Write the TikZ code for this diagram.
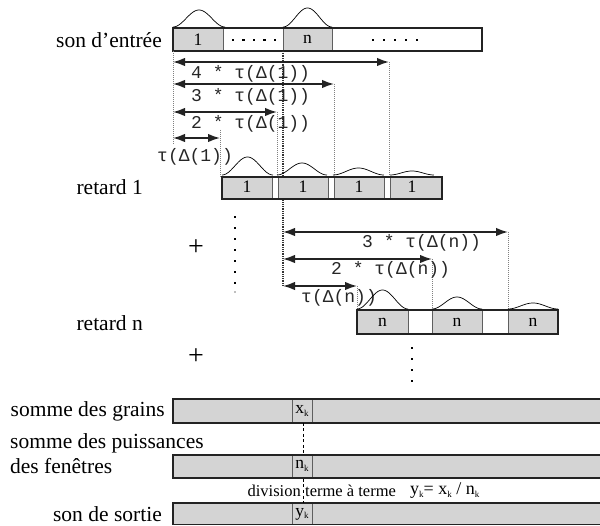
\documentclass[tikz,border=0pt]{standalone}
\usepackage{fontspec}
\setmainfont{Liberation Serif}
\newfontfamily\monof{Liberation Mono}
\usetikzlibrary{arrows.meta}
\definecolor{cellgray}{RGB}{212,212,212}
\definecolor{edgec}{RGB}{35,35,35}
\definecolor{divc}{RGB}{95,95,95}
\newcommand\mybump[4]{% x0, width, base, height
  \draw[bumpline] plot[domain=0:1,samples=41,smooth] ({#1+\x*#2},{#3-#4*(sin(180*\x))^2});}
\begin{document}
\begin{tikzpicture}[x=1pt,y=-1pt,
  lab/.style={font=\fontsize{21.5}{21.5}\selectfont, inner sep=0pt},
  cellt/.style={font=\fontsize{17.5}{17.5}\selectfont, inner sep=0pt},
  mono/.style={font=\monof\fontsize{18}{18}\selectfont, inner sep=0pt, anchor=west, text=black!85},
  darr/.style={{Latex[length=12pt,width=8.5pt]}-{Latex[length=12pt,width=8.5pt]}, line width=1.6pt, draw=edgec},
  vdot/.style={draw=gray, line width=0.7pt, dash pattern=on 1pt off 1pt},
  vdotb/.style={draw=black!80, line width=1.2pt, dash pattern=on 1pt off 0.8pt},
  gcell/.style={fill=cellgray},
  bar/.style={draw=edgec, line width=1.6pt},
  divl/.style={draw=divc, line width=0.9pt},
  bumpline/.style={draw=black, line width=0.7pt},
  plus/.style={font=\fontsize{28}{28}\selectfont, inner sep=0pt},
  dotsq/.style={fill=black, minimum size=2.6pt, inner sep=0pt, draw=none, rectangle},
  vdash/.style={draw=black, line width=0.8pt, dash pattern=on 3pt off 2.5pt}]
\clip (0,0) rectangle (600,526);
\useasboundingbox (0,0) rectangle (600,526);

% ---------- input sound ----------
\node[lab, anchor=east] (lin) at (162,40) {son d’entrée};
\fill[gcell] (173,28) rectangle (223,51);
\fill[gcell] (283,28) rectangle (332,51);
\draw[divl] (223,28) -- (223,51) (283,28) -- (283,51) (332,28) -- (332,51);
\draw[bar] (173,28) rectangle (482,51);
\node[cellt] (in1) at (198,40) {1};
\node[cellt] (inn) at (307.5,39) {n};
\foreach \i in {0,...,4} {\node[dotsq] (da\i) at (233+10.5*\i,40) {};}
\foreach \i in {0,...,4} {\node[dotsq] (db\i) at (373+11*\i,40) {};}
\mybump{173}{52}{27}{17}
\mybump{283}{49}{27}{19}

% ---------- delays of grain 1 ----------
\coordinate (a0) at (173,62); \coordinate (a4) at (389,62);
\coordinate (b0) at (173,84); \coordinate (b3) at (334,84);
\coordinate (c0) at (173,112); \coordinate (c2) at (277,112);
\coordinate (d0) at (173,138); \coordinate (d1) at (220,138);
\draw[vdot] (173,51) -- (173,145);
\draw[vdot] (220,130) -- (220,177);
\draw[vdot] (277,112) -- (277,177);
\draw[vdot] (334,84) -- (334,177);
\draw[vdot] (389,62) -- (389,177);
\draw[vdotb] (283,51) -- (283,286);
\draw[darr] (a0) -- (a4);
\draw[darr] (b0) -- (b3);
\draw[darr] (c0) -- (c2);
\draw[darr] (d0) -- (d1);
\node[mono] (t4) at (191,74) {4 * τ(Δ(1))};
\node[mono] (t3) at (191,97) {3 * τ(Δ(1))};
\node[mono] (t2) at (191,124) {2 * τ(Δ(1))};
\node[mono] (t1) at (157,157) {τ(Δ(1))};

% ---------- retard 1 ----------
\node[lab, anchor=east] (lr1) at (143,187) {retard 1};
\fill[gcell] (222,177) rectangle (272,199);
\fill[gcell] (278,177) rectangle (328,199);
\fill[gcell] (334,177) rectangle (384,199);
\fill[gcell] (390,177) rectangle (442,199);
\draw[divl] (272,177) -- (272,199) (278,177) -- (278,199) (328,177) -- (328,199)
  (334,177) -- (334,199) (384,177) -- (384,199) (390,177) -- (390,199);
\draw[bar] (222,177) rectangle (442,199);
\node[cellt] (r11) at (247,187) {1};
\node[cellt] (r12) at (303,187) {1};
\node[cellt] (r13) at (359,187) {1};
\node[cellt] (r14) at (412,187) {1};
\mybump{222}{51}{175}{18}
\mybump{277}{50}{175}{12}
\mybump{333}{51}{175}{7}
\mybump{390}{44}{175}{4}

% ---------- dots and plus ----------
\foreach \i in {0,...,6} {\node[dotsq] (vc\i) at (235,217+11*\i) {};}
\node[dotsq, fill=black!25] (vc7) at (235,292) {};
\node[plus] (p1) at (196,248) {+};

% ---------- delays of grain n ----------
\coordinate (e0) at (283,232); \coordinate (e3) at (508,232);
\coordinate (f0) at (283,259); \coordinate (f2) at (432,259);
\coordinate (g0) at (283,286); \coordinate (g1) at (357,286);
\draw[vdot] (508,232) -- (508,310);
\draw[vdot] (432,259) -- (432,310);
\draw[vdot] (357,286) -- (357,310);
\draw[darr] (e0) -- (e3);
\draw[darr] (f0) -- (f2);
\draw[darr] (g0) -- (g1);
\node[mono] (u3) at (362,243) {3 * τ(Δ(n))};
\node[mono] (u2) at (331,270) {2 * τ(Δ(n))};
\node[mono] (u1) at (301,298) {τ(Δ(n))};

% ---------- retard n ----------
\node[lab, anchor=east] (lrn) at (143,323) {retard n};
\fill[gcell] (357,310) rectangle (408,334);
\fill[gcell] (432,310) rectangle (482,334);
\fill[gcell] (508,310) rectangle (558,334);
\draw[divl] (408,310) -- (408,334) (432,310) -- (432,334) (482,310) -- (482,334) (508,310) -- (508,334);
\draw[bar] (357,310) rectangle (558,334);
\node[cellt] (rn1) at (382.5,322) {n};
\node[cellt] (rn2) at (457,322) {n};
\node[cellt] (rn3) at (533,322) {n};
\mybump{357}{51}{309}{19}
\mybump{432}{50}{309}{12}
\mybump{508}{50}{309}{6}
\foreach \i in {0,...,3} {\node[dotsq] (vd\i) at (412,348+11*\i) {};}
\node[plus] (p2) at (196,357) {+};

% ---------- bottom bars ----------
\node[lab, anchor=east] (lsg) at (165,411) {somme des grains};
\node[lab, anchor=west] (lsp) at (10,443) {somme des puissances};
\node[lab, anchor=west] (lsf) at (10,466) {des fenêtres};
\node[lab, anchor=east] (lss) at (162,514) {son de sortie};
\foreach \yt/\yb in {399/423, 455/478, 503/524.5} {
  \fill[gcell] (173,\yt) rectangle (610,\yb);
  \draw[divl] (292,\yt) -- (292,\yb) (312,\yt) -- (312,\yb);
  \draw[bar] (173,\yt) rectangle (610,\yb);
}
\node[cellt] (xk) at (302,411) {x\raisebox{-2.5pt}{\fontsize{9}{9}\selectfont k}};
\node[cellt] (nk) at (302,466) {n\raisebox{-2.5pt}{\fontsize{9}{9}\selectfont k}};
\node[cellt] (yk) at (302,514) {y\raisebox{-2.5pt}{\fontsize{9}{9}\selectfont k}};
\draw[vdash] (303,423) -- (303,455);
\draw[vdash] (303,479) -- (303,503);
\node[font=\fontsize{16.5}{16.5}\selectfont, inner sep=0pt, anchor=east] (div1) at (301,491) {division};
\node[font=\fontsize{16.5}{16.5}\selectfont, inner sep=0pt, anchor=west] (div2) at (305,491) {terme à terme};
\node[font=\fontsize{18}{18}\selectfont, inner sep=0pt, anchor=west] (eq) at (410,491)
  {y\raisebox{-2.5pt}{\fontsize{9}{9}\selectfont k}= x\raisebox{-2.5pt}{\fontsize{9}{9}\selectfont k} / n\raisebox{-2.5pt}{\fontsize{9}{9}\selectfont k}};
\end{tikzpicture}
\end{document}
